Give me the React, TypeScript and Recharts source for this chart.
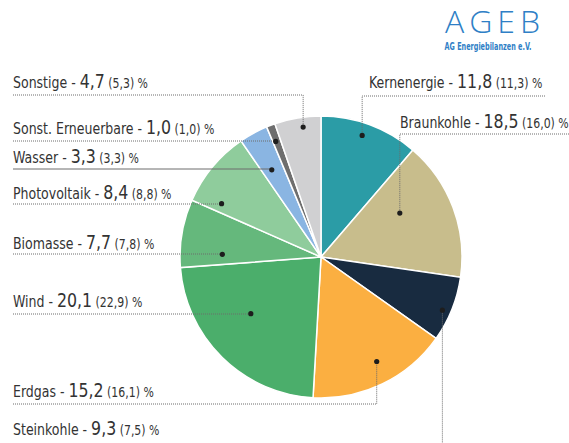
import React from 'react';
import { PieChart, Pie, Cell } from 'recharts';

// Primärenergieverbrauch, Anteile in % (Vorjahr in Klammern)
const categories = [
  'Kernenergie',
  'Braunkohle',
  'Steinkohle',
  'Erdgas',
  'Wind',
  'Biomasse',
  'Photovoltaik',
  'Wasser',
  'Sonst. Erneuerbare',
  'Sonstige',
];
const shareCurrent = [11.8, 18.5, 9.3, 15.2, 20.1, 7.7, 8.4, 3.3, 1.0, 4.7];
const sharePrevious = [11.3, 16.0, 7.5, 16.1, 22.9, 7.8, 8.8, 3.3, 1.0, 5.3];

const colors = [
  '#2b9ca6',
  '#c8bd8c',
  '#182b40',
  '#fbaf41',
  '#4bae6b',
  '#65b87c',
  '#8fcc9c',
  '#8ab5e2',
  '#6e6e6e',
  '#d0d0d2',
];

// callout layout: t = position inside slice (0..1 of its angle), f = fraction of radius
const callouts = [
  { t: 0.46, f: 0.91, side: 'right', textX: 369, baseline: 88, lineY: 96, lineEnd: 545 },
  { t: 0.35, f: 0.64, side: 'right', textX: 400, baseline: 128, lineY: 134, lineEnd: 569 },
  { t: 0.57, f: 0.94, side: 'left', textX: 13, baseline: 435, lineY: 447 },
  { t: 0.46, f: 0.84, side: 'left', textX: 13, baseline: 397, lineY: 404 },
  { t: 0.58, f: 0.64, side: 'left', textX: 13, baseline: 307, lineY: 314 },
  { t: 0.21, f: 0.7, side: 'left', textX: 13, baseline: 249, lineY: 254 },
  { t: 0.14, f: 0.8, side: 'left', textX: 13, baseline: 199, lineY: 204 },
  { t: 0.43, f: 0.71, side: 'left', textX: 13, baseline: 163, lineY: 169, solid: true },
  { t: 0.36, f: 0.88, side: 'left', textX: 13, baseline: 134, lineY: 141 },
  { t: 0.59, f: 0.93, side: 'left', textX: 13, baseline: 88, lineY: 95 },
];

const data = categories.map((name, i) => ({
  name,
  value: sharePrevious[i],
  current: shareCurrent[i],
}));

const FONT = "'DejaVu Sans Condensed', 'DejaVu Sans', sans-serif";
const RAD = Math.PI / 180;
const fmt = (v: number) => v.toFixed(1).replace('.', ',');

const renderLabel = (props: any) => {
  const { cx, cy, outerRadius, startAngle, endAngle, index } = props;
  const c = callouts[index];
  const a = startAngle + c.t * (endAngle - startAngle);
  const r = outerRadius * c.f;
  const dx = cx + Math.cos(-a * RAD) * r;
  const dy = cy + Math.sin(-a * RAD) * r;
  const x0 = c.side === 'left' ? 13 : c.lineEnd;
  const path = `M${x0},${c.lineY} H${dx} V${dy}`;
  return (
    <g key={`lbl-${index}`}>
      <path
        d={path}
        fill="none"
        stroke="#6d6d6d"
        strokeWidth={1}
        strokeDasharray={c.solid ? undefined : '1 1'}
      />
      <circle cx={dx} cy={dy} r={2.6} fill="#1d1d1d" />
      <text
        transform={`translate(${c.textX},${c.baseline}) scale(0.9,1)`}
        x={0}
        y={0}
        fontFamily={FONT}
        fill="#333333"
      >
        <tspan fontSize={15.5}>{categories[index]} - </tspan>
        <tspan fontSize={19.5}>{fmt(shareCurrent[index])}</tspan>
        <tspan fontSize={13.5}> ({fmt(sharePrevious[index])}) %</tspan>
      </text>
    </g>
  );
};

export default function App() {
  return (
    <div style={{ position: 'absolute', left: 0, top: 0, width: 569, height: 443, background: '#fff' }}>
      <PieChart width={569} height={443} margin={{ top: 0, right: 0, bottom: 0, left: 0 }}>
        <text
          x={495}
          y={33}
          textAnchor="middle"
          fontFamily="'Open Sans', 'DejaVu Sans', sans-serif"
          fontSize={32}
          fontWeight={300}
          letterSpacing={5}
          fill="#2f7fc6"
        >
          AGEB
        </text>
        <text
          transform="translate(488,50) scale(0.72,1)"
          x={0}
          y={0}
          textAnchor="middle"
          fontFamily={FONT}
          fontSize={10}
          fontWeight={700}
          fill="#2f7fc6"
        >
          AG Energiebilanzen e.V.
        </text>
        <Pie
          data={data}
          dataKey="value"
          nameKey="name"
          cx={321}
          cy={257}
          outerRadius={141}
          startAngle={90}
          endAngle={-270}
          stroke="#ffffff"
          strokeWidth={1.5}
          label={renderLabel}
          labelLine={false}
          isAnimationActive={false}
        >
          {data.map((d, i) => (
            <Cell key={d.name} fill={colors[i]} />
          ))}
        </Pie>
      </PieChart>
    </div>
  );
}
